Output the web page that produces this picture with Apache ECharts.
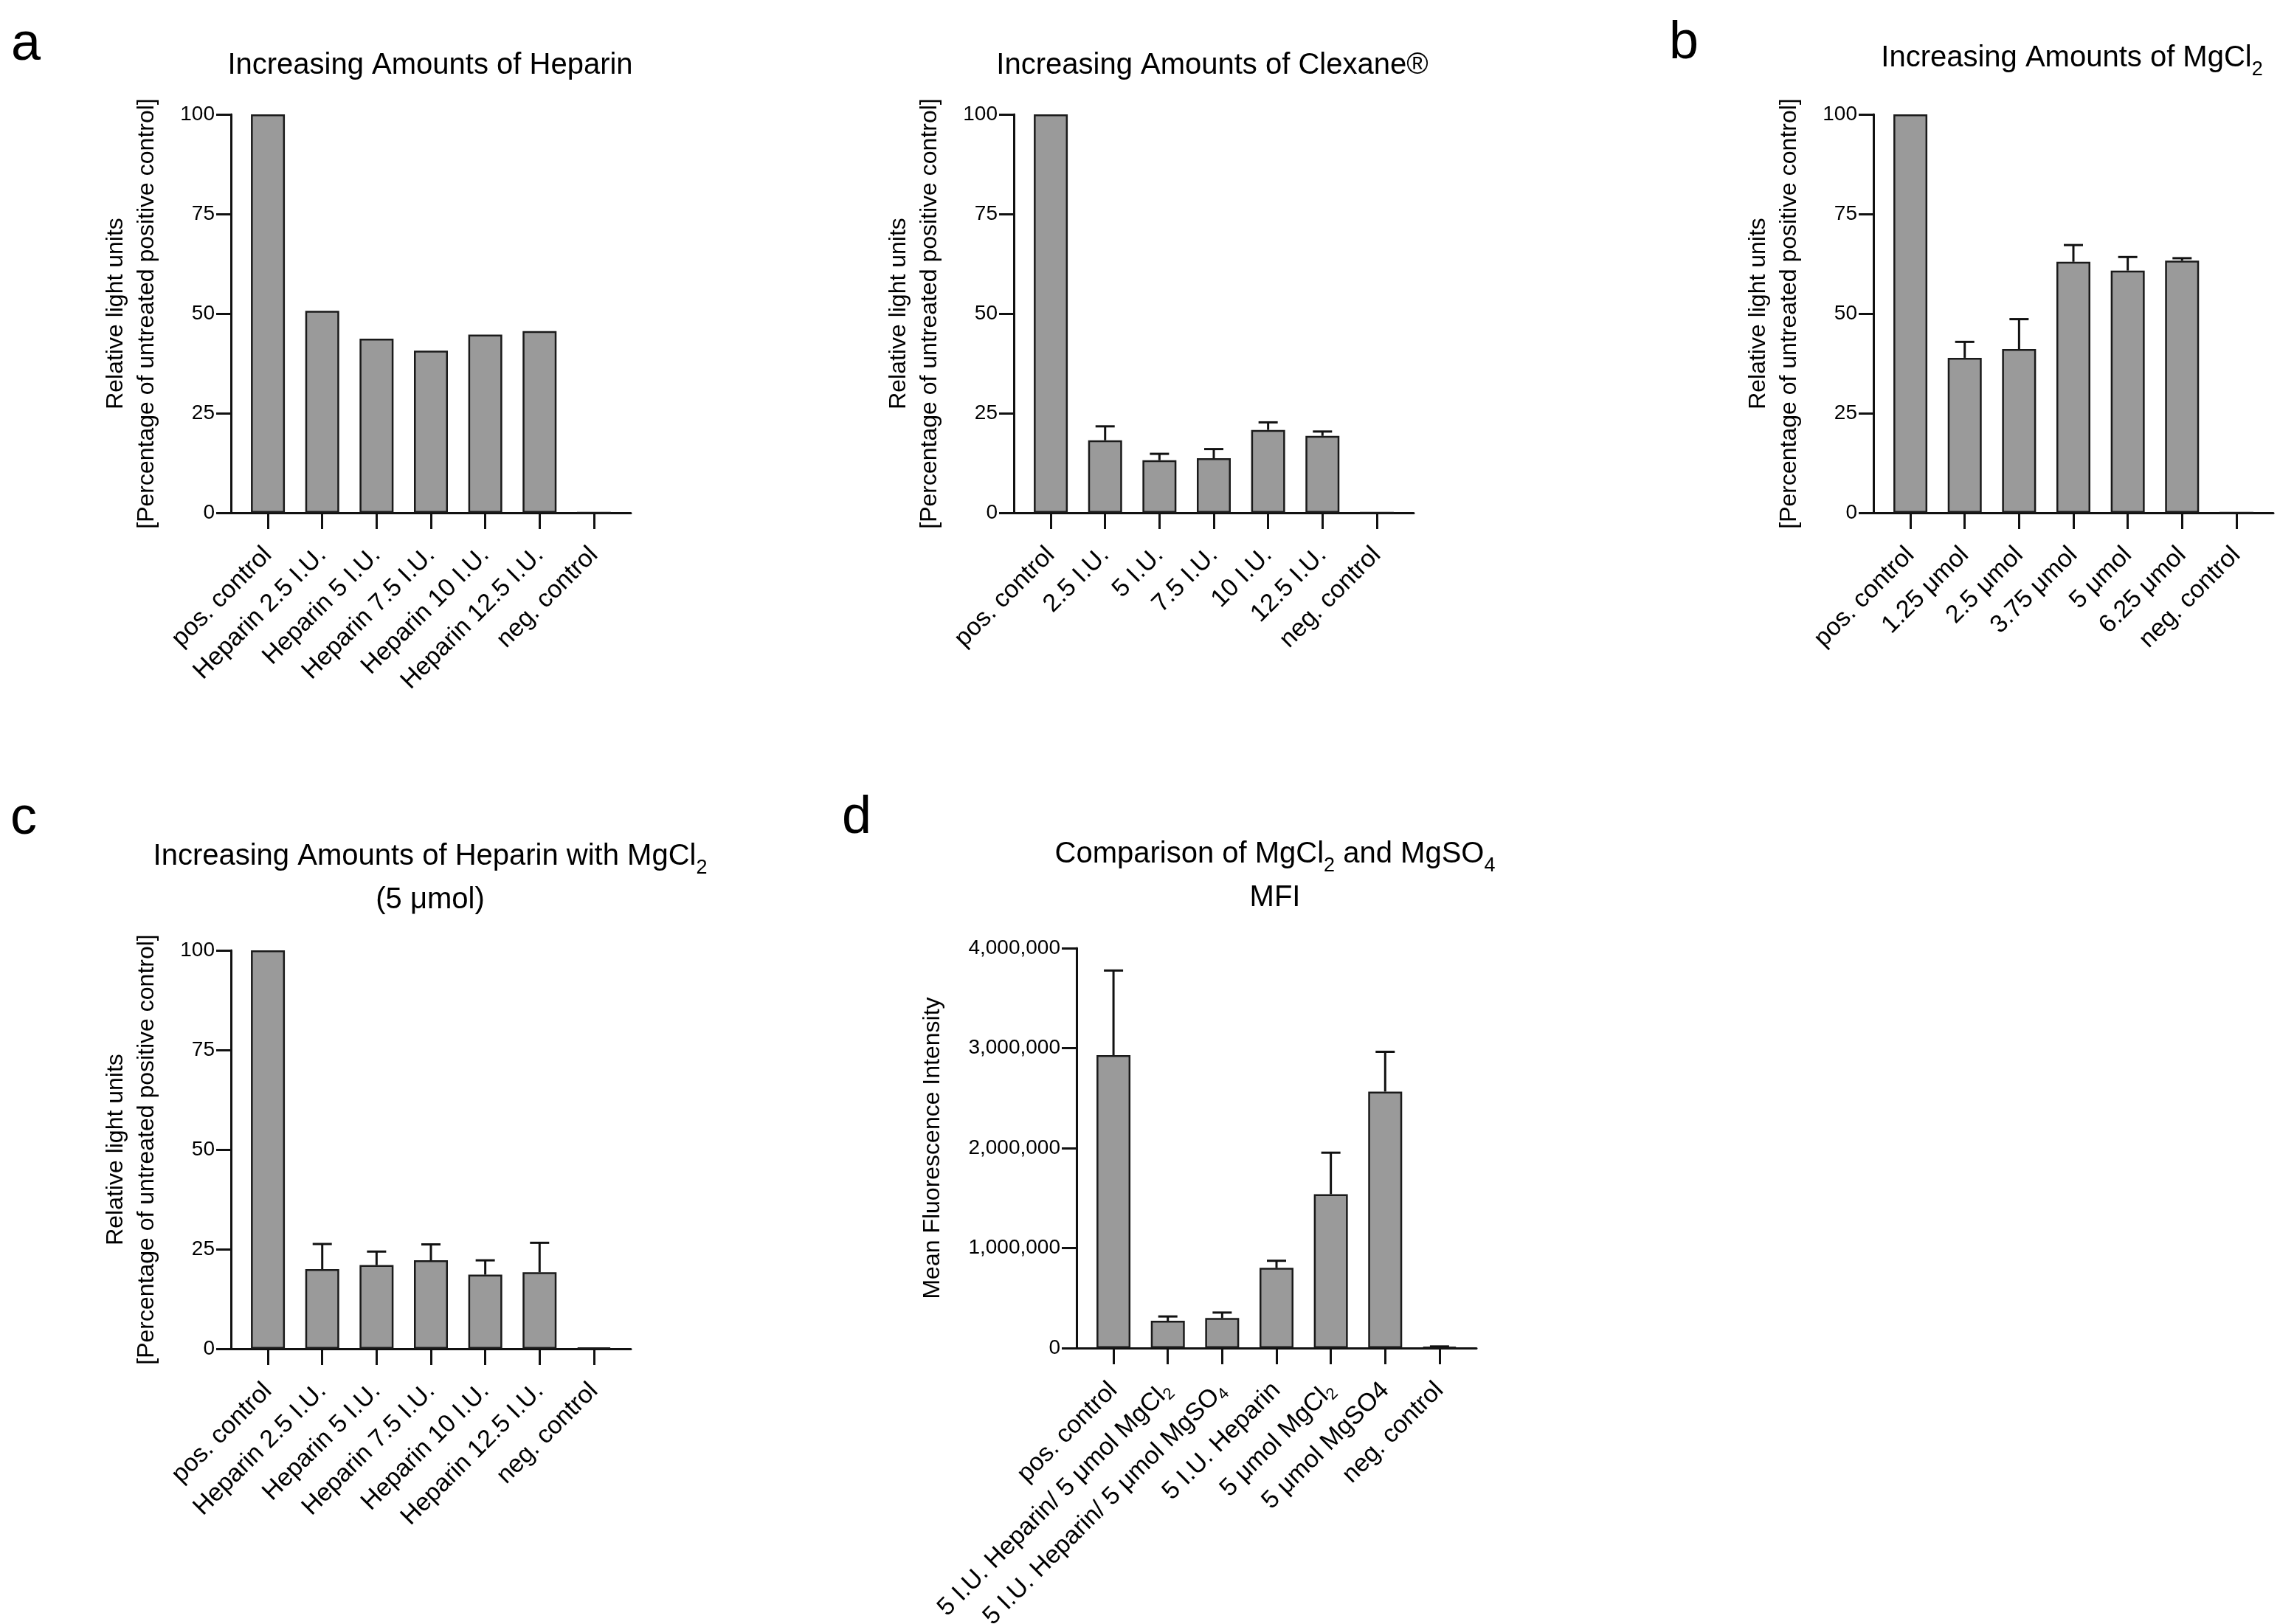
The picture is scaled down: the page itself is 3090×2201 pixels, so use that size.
<!DOCTYPE html>
<html>
<head>
<meta charset="utf-8">
<title>Heparin, Clexane and MgCl2 assays</title>
<script src="https://cdn.jsdelivr.net/npm/echarts@6/dist/echarts.min.js"></script>
<style>
  html, body { margin: 0; padding: 0; background: #fff; }
  #chart { width: 3090px; height: 2201px; }
</style>
</head>
<body>
<div id="chart"></div>
<script>
// ---- data ----
// category labels per panel ({s|..} = subscript)
const heparinCats = ['pos. control', 'Heparin 2.5 I.U.', 'Heparin 5 I.U.', 'Heparin 7.5 I.U.', 'Heparin 10 I.U.', 'Heparin 12.5 I.U.', 'neg. control'];
const clexaneCats = ['pos. control', '2.5 I.U.', '5 I.U.', '7.5 I.U.', '10 I.U.', '12.5 I.U.', 'neg. control'];
const mgCats = ['pos. control', '1.25 μmol', '2.5 μmol', '3.75 μmol', '5 μmol', '6.25 μmol', 'neg. control'];
const mfiCats = ['pos. control', '5 I.U. Heparin/ 5 μmol MgCl{s|2}', '5 I.U. Heparin/ 5 μmol MgSO{s|4}', '5 I.U. Heparin', '5 μmol MgCl{s|2}', '5 μmol MgSO4', 'neg. control'];

// bar means, and the top of the (upper only) error bar; null = no error bar
const heparinVals = [100, 50.7, 43.7, 40.7, 44.7, 45.6, 0];
const heparinErr  = [null, null, null, null, null, null, null];

const clexaneVals = [100, 18.2, 13.2, 13.7, 20.8, 19.3, 0];
const clexaneErr  = [null, 21.7, 14.8, 16.0, 22.7, 20.4, null];

const mgVals = [100, 38.9, 41.1, 63.0, 60.8, 63.3, 0];
const mgErr  = [null, 42.9, 48.6, 67.2, 64.2, 63.9, null];

const hepMgVals = [100, 20.0, 21.0, 22.2, 18.6, 19.2, 0.3];
const hepMgErr  = [null, 26.3, 24.4, 26.2, 22.2, 26.6, null];

const mfiVals = [2930000, 273000, 300000, 802000, 1539000, 2565000, 11000];
const mfiErr  = [3776000, 316000, 355000, 873000, 1954000, 2963000, 16000];

// tick labels
const pctTicks = [0, 25, 50, 75, 100];
const mfiTicks = [0, 1000000, 2000000, 3000000, 4000000];

const FONT = '"Liberation Sans", Arial, Helvetica, sans-serif';
const INK = '#111';

// panels: [left, top, width, height] of the plotting area
const panels = [
  { cats: heparinCats, vals: heparinVals, err: heparinErr, ticks: pctTicks, box: [313, 155, 542, 540],
    yName: 'Relative light units\n[Percentage of untreated positive control]', nameGap: 93 },
  { cats: clexaneCats, vals: clexaneVals, err: clexaneErr, ticks: pctTicks, box: [1374, 155, 542, 540],
    yName: 'Relative light units\n[Percentage of untreated positive control]', nameGap: 93 },
  { cats: mgCats, vals: mgVals, err: mgErr, ticks: pctTicks, box: [2539, 155, 542, 540],
    yName: 'Relative light units\n[Percentage of untreated positive control]', nameGap: 93 },
  { cats: heparinCats, vals: hepMgVals, err: hepMgErr, ticks: pctTicks, box: [313, 1288, 542, 540],
    yName: 'Relative light units\n[Percentage of untreated positive control]', nameGap: 93 },
  { cats: mfiCats, vals: mfiVals, err: mfiErr, ticks: mfiTicks, box: [1459, 1285, 542, 542],
    yName: 'Mean Fluorescence Intensity', nameGap: 174 }
];

const subRich = { s: { fontSize: 22, lineHeight: 24, verticalAlign: 'bottom', fontFamily: FONT, color: '#000' } };

const titles = [
  { text: 'Increasing Amounts of Heparin', x: 583, y: 59 },
  { text: 'Increasing Amounts of Clexane®', x: 1643, y: 59 },
  { text: 'Increasing Amounts of MgCl{t|2}', x: 2808, y: 49 },
  { text: 'Increasing Amounts of Heparin with MgCl{t|2}\n(5 μmol)', x: 583, y: 1131 },
  { text: 'Comparison of MgCl{t|2} and MgSO{t|4}\nMFI', x: 1728, y: 1128 }
];

const letters = [
  { text: 'a', x: 35, y: 25 },
  { text: 'b', x: 2282, y: 23 },
  { text: 'c', x: 32, y: 1074 },
  { text: 'd', x: 1161, y: 1073 }
];

const grids = [], xAxes = [], yAxes = [], series = [];

panels.forEach(function (p, i) {
  const idx = p.cats.map(function (c, k) { return k; });
  // outerBoundsMode none: keep the plot box fixed even where long labels run near the edge
  grids.push({ left: p.box[0], top: p.box[1], width: p.box[2], height: p.box[3],
    containLabel: false, outerBoundsMode: 'none' });

  xAxes.push({
    type: 'value', gridIndex: i, min: -0.68, max: 6.68,
    splitLine: { show: false },
    axisLine: { show: true, onZero: false, lineStyle: { color: INK, width: 3 } },
    axisTick: { show: true, customValues: idx, length: 22, lineStyle: { color: INK, width: 3 } },
    axisLabel: {
      show: true, customValues: idx, rotate: 45, margin: 52,
      fontSize: 34, lineHeight: 40, fontFamily: FONT, color: '#000',
      formatter: function (v) { return p.cats[Math.round(v)]; },
      rich: subRich
    }
  });

  const top = p.ticks[p.ticks.length - 1];
  yAxes.push({
    type: 'value', gridIndex: i, min: 0, max: top, interval: p.ticks[1] - p.ticks[0],
    splitLine: { show: false },
    axisLine: { show: true, onZero: false, lineStyle: { color: INK, width: 3 } },
    axisTick: { show: true, length: 20, lineStyle: { color: INK, width: 3 } },
    axisLabel: {
      margin: 22, fontSize: 28, fontFamily: FONT, color: '#000',
      formatter: function (v) { return v.toLocaleString('en-US'); }
    },
    name: p.yName, nameLocation: 'middle', nameRotate: 90, nameGap: p.nameGap,
    nameTextStyle: { fontSize: 32, lineHeight: 42, fontFamily: FONT, color: '#000' }
  });

  series.push({
    type: 'bar', xAxisIndex: i, yAxisIndex: i, barWidth: 46,
    data: p.vals.map(function (v, k) { return [k, v]; }),
    itemStyle: { color: '#9a9a9a', borderColor: '#1a1a1a', borderWidth: 2.5 },
    silent: true
  });

  const errData = [];
  p.err.forEach(function (t, k) { if (t != null) errData.push([k, p.vals[k], t]); });
  if (errData.length) {
    series.push({
      type: 'custom', xAxisIndex: i, yAxisIndex: i, z: 3, silent: true, clip: false,
      encode: { x: 0, y: [1, 2] },
      renderItem: function (params, api) {
        const x = api.value(0);
        const lo = api.coord([x, api.value(1)]);
        const hi = api.coord([x, api.value(2)]);
        const half = 13;
        const st = { stroke: INK, lineWidth: 3 };
        return {
          type: 'group',
          children: [
            { type: 'line', shape: { x1: lo[0], y1: lo[1], x2: hi[0], y2: hi[1] }, style: st },
            { type: 'line', shape: { x1: hi[0] - half, y1: hi[1], x2: hi[0] + half, y2: hi[1] }, style: st }
          ]
        };
      },
      data: errData
    });
  }
});

const titleOpts = titles.map(function (t) {
  return {
    text: t.text, left: t.x, top: t.y, textAlign: 'center', padding: 0,
    textStyle: {
      fontSize: 40, fontWeight: 'normal', lineHeight: 59, fontFamily: FONT, color: '#000',
      rich: { t: { fontSize: 27, lineHeight: 40, verticalAlign: 'bottom', fontFamily: FONT, color: '#000' } }
    }
  };
}).concat(letters.map(function (l) {
  return {
    text: l.text, left: l.x, top: l.y, textAlign: 'center', padding: 0,
    textStyle: { fontSize: 72, fontWeight: 'normal', lineHeight: 72, fontFamily: FONT, color: '#000' }
  };
}));

const chart = echarts.init(document.getElementById('chart'));
chart.setOption({
  animation: false,
  backgroundColor: '#fff',
  textStyle: { fontFamily: FONT },
  title: titleOpts,
  grid: grids,
  xAxis: xAxes,
  yAxis: yAxes,
  series: series
});
</script>
</body>
</html>
